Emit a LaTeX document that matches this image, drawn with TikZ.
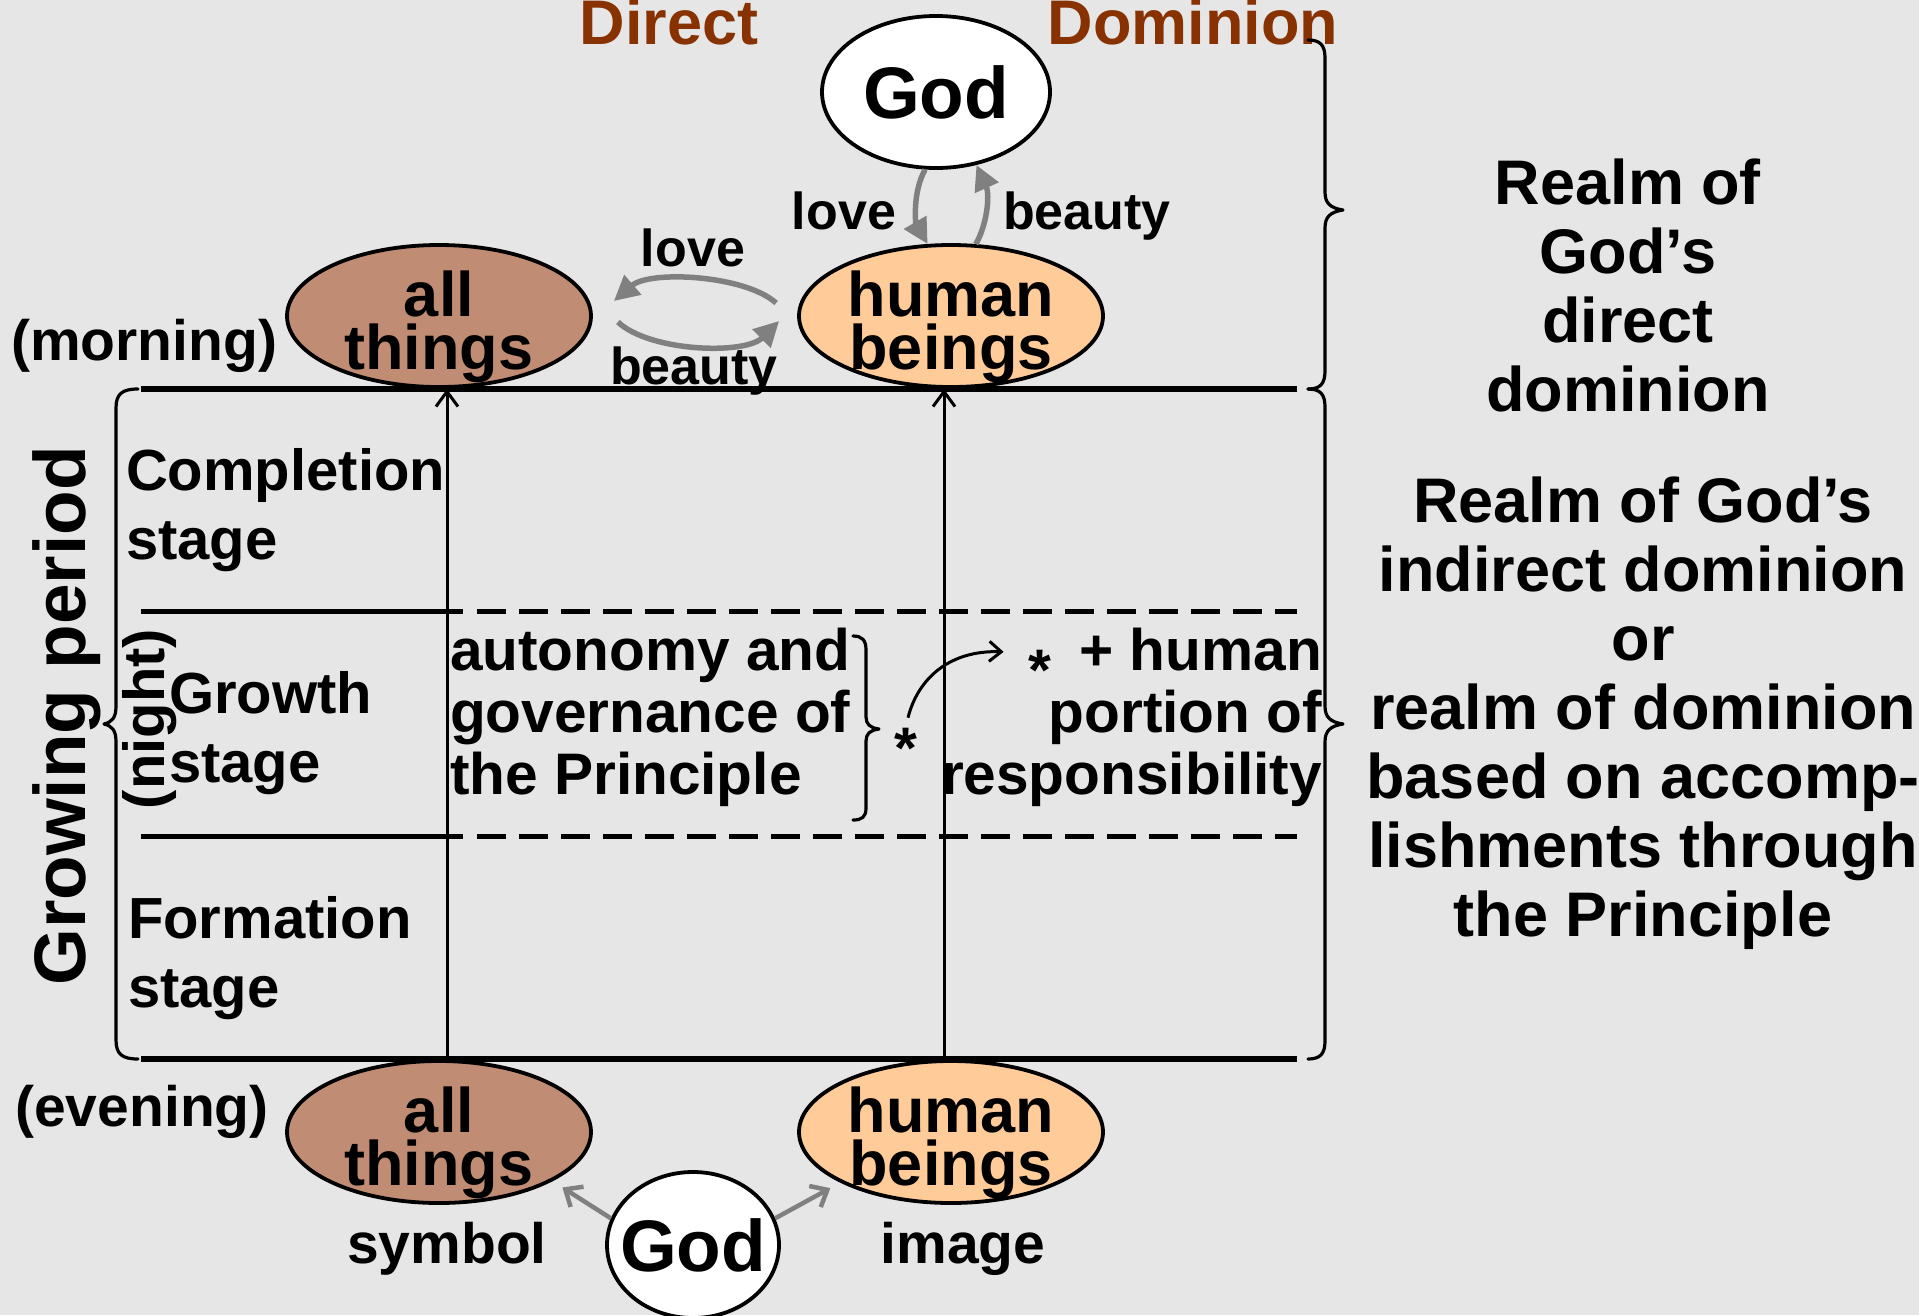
\documentclass[tikz,border=0pt]{standalone}
\usepackage{fontspec}
\setmainfont{Liberation Sans}
\usetikzlibrary{arrows.meta,shapes.geometric,calc}
\definecolor{bg}{RGB}{230,230,230}
\definecolor{thingc}{RGB}{192,140,115}
\definecolor{humc}{RGB}{255,204,153}
\definecolor{arrgray}{RGB}{128,128,128}
\definecolor{brownT}{RGB}{135,50,0}
\newcommand\fHead{\bfseries\fontsize{63}{69}\selectfont}
\newcommand\fGod{\bfseries\fontsize{73}{80}\selectfont}
\newcommand\fEll{\bfseries\fontsize{63}{53}\selectfont}
\newcommand\fLbl{\bfseries\fontsize{52}{60}\selectfont}
\newcommand\fStage{\bfseries\fontsize{58}{69}\selectfont}
\newcommand\fAuto{\bfseries\fontsize{58.6}{62}\selectfont}
\newcommand\fRealm{\bfseries\fontsize{63}{69}\selectfont}
\newcommand\fGrow{\bfseries\fontsize{73}{80}\selectfont}
\newcommand\fSide{\bfseries\fontsize{57}{64}\selectfont}
\tikzset{
  ell/.style={ellipse, draw=black, line width=3.8pt, inner sep=0pt},
  txt/.style={inner sep=0pt, outer sep=0pt},
  grayarr/.style={draw=arrgray, line width=5.5pt, -{Triangle[length=25pt,width=25pt]}},
  grayopen/.style={draw=arrgray, line width=4.5pt, -{Straight Barb[length=14pt,width=24pt]}},
  vline/.style={line width=3pt, -{Straight Barb[length=15pt,width=22pt]}},
  thinarr/.style={line width=3pt, -{Straight Barb[length=12pt,width=20pt]}},
  hline/.style={line width=5.5pt},
  dline/.style={line width=5pt, dash pattern=on 29pt off 13pt},
  brace/.style={line width=3.2pt, line cap=round, line join=round},
}
\begin{document}
\begin{tikzpicture}[x=1pt,y=-1pt]
\useasboundingbox (0,0) rectangle (1919,1315);
\clip (0,0) rectangle (1919,1315);
\fill[bg] (0,0) rectangle (1919,1315);

% header
\node[txt, anchor=base, text=brownT, font=\fHead] (direct) at (669,44) {Direct};
\node[txt, anchor=base, text=brownT, font=\fHead] (dominion) at (1193,44) {Dominion};

% ellipses
\node[ell, fill=white, minimum width=228pt, minimum height=152pt] (godT) at (936,92) {};
\node[txt, font=\fGod] (godTt) at (godT.center) {God};
\node[ell, fill=thingc, minimum width=304pt, minimum height=142pt] (matM) at (439,316) {};
\node[txt, font=\fEll, align=center, anchor=base] (matMt) at ($(matM.center)+(0,53)$) {all\\things};
\node[ell, fill=humc, minimum width=304pt, minimum height=142pt] (humM) at (951,316) {};
\node[txt, font=\fEll, align=center, anchor=base] (humMt) at ($(humM.center)+(0,53)$) {human\\beings};
\node[ell, fill=thingc, minimum width=304pt, minimum height=142pt] (matB) at (439,1132) {};
\node[txt, font=\fEll, align=center, anchor=base] (matBt) at ($(matB.center)+(0,53)$) {all\\things};
\node[ell, fill=humc, minimum width=304pt, minimum height=142pt] (humB) at (951,1132) {};
\node[txt, font=\fEll, align=center, anchor=base] (humBt) at ($(humB.center)+(0,53)$) {human\\beings};
\node[ell, fill=white, minimum width=172pt, minimum height=146pt] (godB) at (693,1245) {};
\node[txt, font=\fGod] (godBt) at (godB.center) {God};

% labels
\node[txt, anchor=base, font=\fLbl] (loveT) at (844,229) {love};
\node[txt, anchor=base, font=\fLbl] (beautyT) at (1087,229) {beauty};
\node[txt, anchor=base, font=\fLbl] (loveM) at (693,266) {love};
\node[txt, anchor=base, font=\fLbl] (beautyM) at (694,384) {beauty};
\node[txt, anchor=base, font=\fSide] (morning) at (144,360) {(morning)};
\node[txt, anchor=base, font=\fSide] (evening) at (142,1126) {(evening)};
\node[txt, anchor=base, font=\fSide] (symbol) at (447,1263) {symbol};
\node[txt, anchor=base, font=\fSide] (image) at (963,1263) {image};

% gray arrows
\draw[grayarr] (godT.262) .. controls (912,193) and (916,224) .. (humM.108);
\draw[grayarr] (humM.71) .. controls (987,225) and (990,195) .. (godT.299);
\draw[grayarr] ($(humM.west)+(-21,-13)$) .. controls (745,275) and (650,270) .. ($(matM.east)+(21,-15)$);
\draw[grayarr] ($(matM.east)+(25,6)$) .. controls (650,352) and (745,355) .. ($(humM.west)+(-18,5)$);
\draw[grayopen] (godB.162) -- ($(matB.-28)+(21,1)$);
\draw[grayopen] (godB.18) -- ($(humB.205)+(-11,5)$);

% frame lines
\coordinate (tl) at (141,389); \coordinate (tr) at (1297,389);
\coordinate (bl) at (141,1059); \coordinate (br) at (1297,1059);
\coordinate (d1l) at (141,611); \coordinate (d1m) at (463,611); \coordinate (d1s) at (477,611); \coordinate (d1r) at (1297,611);
\coordinate (d2l) at (141,836); \coordinate (d2m) at (463,836); \coordinate (d2s) at (477,836); \coordinate (d2r) at (1297,836);
\draw[hline] (tl) -- (tr);
\draw[hline] (bl) -- (br);
\draw[line width=5pt] (d1l) -- (d1m);
\draw[dline] (d1s) -- (d1r);
\draw[line width=5pt] (d2l) -- (d2m);
\draw[dline] (d2s) -- (d2r);
\coordinate (va1) at (447,1059); \coordinate (va2) at (447,389);
\coordinate (vb1) at (944,1059); \coordinate (vb2) at (944,389);
\draw[vline] (va1) -- (va2);
\draw[vline] (vb1) -- (vb2);

% left brace
\draw[brace] (138,389) .. controls (122,389) and (116,394) .. (116,408) -- (116,706)
  .. controls (116,718) and (112,722) .. (104,724) .. controls (112,726) and (116,730) .. (116,742)
  -- (116,1040) .. controls (116,1054) and (122,1059) .. (138,1059);
% right braces
\draw[brace] (1308,40) .. controls (1320,40) and (1325,45) .. (1325,58) -- (1325,192)
  .. controls (1325,203) and (1330,208) .. (1343,210) .. controls (1330,212) and (1325,217) .. (1325,228)
  -- (1325,371) .. controls (1325,384) and (1320,389) .. (1308,389);
\draw[brace] (1308,389) .. controls (1320,389) and (1325,394) .. (1325,407) -- (1325,706)
  .. controls (1325,717) and (1330,722) .. (1343,724) .. controls (1330,726) and (1325,731) .. (1325,742)
  -- (1325,1041) .. controls (1325,1054) and (1320,1059) .. (1308,1059);
% inner brace
\draw[brace] (853,636) .. controls (862,636) and (866,640) .. (866,650) -- (866,717)
  .. controls (866,724) and (870,728) .. (879,729) .. controls (870,730) and (866,734) .. (866,741)
  -- (866,808) .. controls (866,817) and (862,820) .. (853,820);

% side texts
\node[txt, rotate=90, font=\fGrow] (growing) at (67,716) {Growing period};
\node[txt, rotate=90, font=\fStage] (night) at (150,719) {(night)};
\node[txt, anchor=base west, align=left, font=\fStage] (compl) at (126,559) {Completion\\stage};
\node[txt, anchor=base west, align=left, font=\fStage] (growth) at (169,782) {Growth\\stage};
\node[txt, anchor=base west, align=left, font=\fStage] (form) at (128,1007) {Formation\\stage};

% middle texts
\node[txt, anchor=base west, align=left, font=\fAuto] (auto) at (450,794) {autonomy and\\governance of\\the Principle};
\node[txt, anchor=base east, align=right, font=\fAuto] (resp) at (1322,794) {+ human\\portion of\\responsibility};
\node[txt, anchor=base, font=\fAuto] (ast1) at (906,768) {*};
\node[txt, anchor=base, font=\fAuto] (ast2) at (1040,690) {*};
\draw[thinarr] ($(ast1.north)+(2,-10)$) .. controls (918,678) and (950,650) .. ($(ast2.west)+(-25,-18)$);

% right texts
\node[txt, anchor=base, align=center, font=\fRealm] (realm1) at (1628,411) {Realm of\\God’s\\direct\\dominion};
\node[txt, anchor=base, align=center, font=\fRealm] (realm2) at (1643,936) {Realm of God’s\\indirect dominion\\or\\realm of dominion\\based on accomp-\\lishments through\\the Principle};
\end{tikzpicture}
\end{document}
